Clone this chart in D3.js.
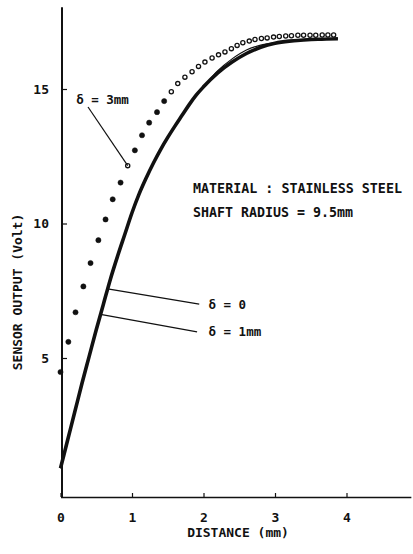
<!DOCTYPE html>
<html>
<head>
<meta charset="utf-8">
<script src="https://cdn.jsdelivr.net/npm/d3@7"></script>
<style>
  html, body { margin: 0; padding: 0; background: #fff; }
  svg { display: block; }
  text { font-family: "DejaVu Sans Mono", "Liberation Mono", monospace; font-weight: bold; fill: #111; }
</style>
</head>
<body>
<svg id="chart" width="413" height="554"></svg>
<script>
// Sensor output (V) against probe distance (mm), solid curves for δ = 0 and δ = 1 mm
const curveDistance = [0, 0.1, 0.2, 0.3, 0.4, 0.5, 0.6, 0.7, 0.8, 0.9, 1.0, 1.1, 1.2, 1.3, 1.4, 1.5, 1.6, 1.7, 1.8, 1.9, 2.0, 2.2, 2.4, 2.6, 2.8, 3.0, 3.2, 3.4, 3.6, 3.88];
const outputDelta0 = [0.9, 1.95, 3.0, 4.05, 5.05, 6.05, 7.0, 7.95, 8.8, 9.6, 10.4, 11.1, 11.7, 12.25, 12.75, 13.2, 13.62, 14.02, 14.42, 14.78, 15.08, 15.6, 16.0, 16.32, 16.55, 16.7, 16.78, 16.82, 16.85, 16.87];
const outputDelta1 = [0.9, 1.95, 3.0, 4.05, 5.05, 6.05, 7.0, 7.95, 8.8, 9.6, 10.4, 11.1, 11.7, 12.25, 12.75, 13.2, 13.62, 14.02, 14.42, 14.78, 15.08, 15.68, 16.12, 16.45, 16.63, 16.72, 16.78, 16.82, 16.85, 16.87];

// Measured points for δ = 3 mm
const dotDistance = [0, 0.11, 0.21, 0.32, 0.42, 0.53, 0.63, 0.73, 0.84, 0.94, 1.04, 1.14, 1.24, 1.35, 1.45, 1.55, 1.64, 1.74, 1.84, 1.93, 2.02, 2.12, 2.21, 2.3, 2.39, 2.47, 2.55, 2.64, 2.72, 2.81, 2.89, 2.98, 3.06, 3.15, 3.23, 3.32, 3.4, 3.49, 3.57, 3.66, 3.74, 3.82];
const outputDelta3 = [4.48, 5.6, 6.7, 7.66, 8.53, 9.38, 10.15, 10.9, 11.52, 12.15, 12.72, 13.28, 13.75, 14.14, 14.55, 14.9, 15.2, 15.44, 15.64, 15.84, 16.0, 16.15, 16.27, 16.38, 16.5, 16.62, 16.72, 16.78, 16.84, 16.88, 16.9, 16.93, 16.95, 16.97, 16.98, 17.0, 17.0, 17.0, 17.0, 17.01, 17.01, 17.01];

const xTicks = [0, 1, 2, 3, 4];
const yTicks = [5, 10, 15];
const xTitle = "DISTANCE (mm)";
const yTitle = "SENSOR OUTPUT (Volt)";
const noteLines = ["MATERIAL : STAINLESS STEEL", "SHAFT RADIUS = 9.5mm"];

const svg = d3.select("#chart");

const x = d3.scaleLinear().domain([0, 4.9]).range([60.5, 410.85]);
const y = d3.scaleLinear().domain([0, 18]).range([492.5, 8.3]);
const axisX = 62;      // left axis line
const axisY = 497;     // bottom axis line

// bottom axis, ticks pointing inward
const gx = svg.append("g")
  .attr("transform", `translate(0,${axisY})`)
  .call(d3.axisBottom(x).tickValues(xTicks).tickFormat(d3.format("d"))
    .tickSizeInner(-4).tickSizeOuter(0));
gx.select(".domain").attr("stroke", "#111").attr("stroke-width", 1.6);
gx.selectAll(".tick line").attr("stroke", "#111").attr("stroke-width", 1.2);
gx.selectAll(".tick text").attr("y", 25).attr("dy", 0)
  .style("font-size", "13px").style("font-family", null);

// left axis, ticks pointing inward
const gy = svg.append("g")
  .attr("transform", `translate(${axisX},0)`)
  .call(d3.axisLeft(y).tickValues(yTicks).tickFormat(d3.format("d"))
    .tickSizeInner(-5).tickSizeOuter(0).tickPadding(13));
gy.select(".domain").remove();
gy.selectAll(".tick line").attr("stroke", "#111").attr("stroke-width", 1.2);
gy.selectAll(".tick text").style("font-size", "13px").style("font-family", null);
gy.append("line")
  .attr("x1", 0).attr("x2", 0)
  .attr("y1", axisY).attr("y2", y(18) - 1)
  .attr("stroke", "#111").attr("stroke-width", 2);

// axis titles
svg.append("text")
  .attr("x", 238).attr("y", 537)
  .attr("text-anchor", "middle")
  .style("font-size", "13px")
  .text(xTitle);
svg.append("text")
  .attr("transform", "translate(22,292) rotate(-90)")
  .attr("text-anchor", "middle")
  .style("font-size", "13px")
  .text(yTitle);

// solid curves
const line = d3.line()
  .x(d => x(d[0])).y(d => y(d[1]))
  .curve(d3.curveMonotoneX);
const curve0 = curveDistance.map((d, i) => [d, outputDelta0[i]]);
const curve1 = curveDistance.map((d, i) => [d, outputDelta1[i]]);

svg.append("path").datum(curve1)
  .attr("d", line).attr("fill", "none")
  .attr("stroke", "#111").attr("stroke-width", 1.2);
svg.append("path").datum(curve0)
  .attr("d", line).attr("fill", "none")
  .attr("stroke", "#111").attr("stroke-width", 3.6)
  .attr("stroke-linejoin", "round");

// δ = 3 mm points: filled near the origin, open further out
const dots = dotDistance.map((d, i) => ({ d, v: outputDelta3[i], i }));
const pointer = 9;
svg.append("g").selectAll("circle").data(dots).join("circle")
  .attr("cx", p => x(p.d)).attr("cy", p => y(p.v))
  .attr("r", p => (p.d >= 1.5 || p.i === pointer) ? 2.1 : 2.6)
  .attr("fill", p => (p.d >= 1.5 || p.i === pointer) ? "#fff" : "#111")
  .attr("stroke", "#111")
  .attr("stroke-width", p => (p.d >= 1.5 || p.i === pointer) ? 1.3 : 0.5);

// value of a solid curve at a given distance
function curveAt(curve, d) {
  const xs = curve.map(c => c[0]);
  const k = Math.max(1, d3.bisectLeft(xs, d));
  const a = curve[k - 1], b = curve[k];
  return a[1] + (b[1] - a[1]) * (d - a[0]) / (b[0] - a[0]);
}

// labelled leaders
const leaders = [
  { label: "δ = 3mm", from: [0.385, 14.33], to: [dotDistance[pointer], outputDelta3[pointer]], text: [0.22, 14.44] },
  { label: "δ = 0", from: [0.66, curveAt(curve0, 0.66)], to: [1.94, 7.0], text: [2.07, 6.83] },
  { label: "δ = 1mm", from: [0.56, curveAt(curve1, 0.56)], to: [1.91, 5.97], text: [2.07, 5.83] }
];
leaders.forEach(a => {
  svg.append("line")
    .attr("x1", x(a.from[0])).attr("y1", y(a.from[1]))
    .attr("x2", x(a.to[0])).attr("y2", y(a.to[1]))
    .attr("stroke", "#111").attr("stroke-width", 1.2);
  svg.append("text")
    .attr("x", x(a.text[0])).attr("y", y(a.text[1]))
    .style("font-size", "12.5px")
    .text(a.label);
});

// material note
svg.append("g").selectAll("text").data(noteLines).join("text")
  .attr("x", x(1.853))
  .attr("y", (d, i) => y(11.13) + i * 24)
  .attr("textLength", (d, i) => i === 0 ? 209 : 160)
  .attr("lengthAdjust", "spacingAndGlyphs")
  .style("font-size", "14px")
  .text(d => d);
</script>
</body>
</html>
